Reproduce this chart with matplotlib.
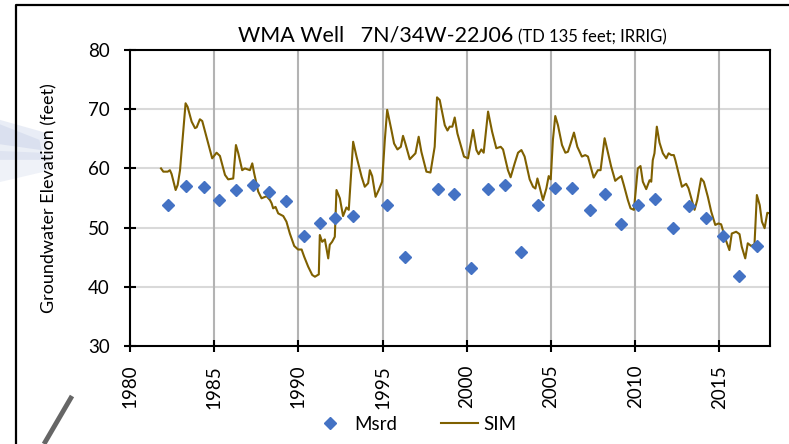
import matplotlib
matplotlib.use("Agg")
import matplotlib.pyplot as plt
from matplotlib.lines import Line2D
from matplotlib.patches import Polygon

plt.rcParams['font.family'] = ['Lato', 'DejaVu Sans']

# measured water levels (roughly one reading per year)
msrd_year = [1982.27, 1983.30, 1984.39, 1985.30, 1986.29, 1987.32, 1988.25, 1989.25,
             1990.32, 1991.27, 1992.20, 1993.25, 1995.27, 1996.30, 1998.29, 1999.24,
             2000.23, 2001.26, 2002.25, 2003.24, 2004.22, 2005.23, 2006.24, 2007.29,
             2008.22, 2009.17, 2010.16, 2011.19, 2012.23, 2013.22, 2014.21, 2015.20,
             2016.17, 2017.21]
msrd_elev = [53.8, 57.1, 56.8, 54.7, 56.4, 57.25, 56.0, 54.5,
             48.5, 50.7, 51.6, 52.0, 53.8, 45.1, 56.6, 55.6,
             43.2, 56.5, 57.25, 45.8, 53.8, 56.7, 56.7, 53.0,
             55.6, 50.6, 53.8, 54.8, 50.0, 53.7, 51.6, 48.6,
             41.9, 46.9]

# simulated heads from the model run
sim_year = [1981.84, 1981.98, 1982.24, 1982.37, 1982.47, 1982.71, 1982.83, 1982.97,
            1983.30, 1983.42, 1983.66, 1983.86, 1983.96, 1984.15, 1984.29, 1984.55,
            1984.88, 1985.14, 1985.34, 1985.64, 1985.83, 1986.13, 1986.29, 1986.43,
            1986.66, 1986.82, 1987.12, 1987.26, 1987.37, 1987.61, 1987.81, 1988.11,
            1988.31, 1988.41, 1988.50, 1988.64, 1988.80, 1989.10, 1989.29, 1989.49,
            1989.75, 1989.98, 1990.19, 1990.34, 1990.58, 1990.82, 1990.98, 1991.21,
            1991.27, 1991.41, 1991.57, 1991.77, 1991.86, 1992.00, 1992.16, 1992.26,
            1992.46, 1992.65, 1992.85, 1992.99, 1993.25, 1993.45, 1993.75, 1993.94,
            1994.14, 1994.24, 1994.38, 1994.58, 1994.77, 1994.97, 1995.13, 1995.27,
            1995.52, 1995.68, 1995.88, 1996.08, 1996.21, 1996.35, 1996.61, 1996.95,
            1997.14, 1997.30, 1997.60, 1997.84, 1998.09, 1998.23, 1998.39, 1998.69,
            1998.85, 1998.98, 1999.14, 1999.28, 1999.44, 1999.83, 2000.07, 2000.37,
            2000.57, 2000.70, 2000.86, 2001.00, 2001.26, 2001.50, 2001.75, 2002.01,
            2002.15, 2002.44, 2002.60, 2002.84, 2003.04, 2003.24, 2003.43, 2003.73,
            2003.93, 2004.07, 2004.19, 2004.32, 2004.52, 2004.72, 2004.86, 2004.98,
            2005.11, 2005.25, 2005.41, 2005.65, 2005.85, 2006.00, 2006.16, 2006.36,
            2006.56, 2006.83, 2007.03, 2007.19, 2007.53, 2007.78, 2007.94, 2008.18,
            2008.37, 2008.57, 2008.81, 2008.97, 2009.17, 2009.32, 2009.56, 2009.72,
            2009.92, 2010.15, 2010.31, 2010.45, 2010.65, 2010.85, 2010.95, 2011.04,
            2011.14, 2011.28, 2011.44, 2011.64, 2011.84, 2011.98, 2012.14, 2012.29,
            2012.38, 2012.57, 2012.77, 2013.02, 2013.16, 2013.52, 2013.68, 2013.91,
            2014.07, 2014.31, 2014.51, 2014.75, 2014.94, 2015.10, 2015.34, 2015.59,
            2015.73, 2015.99, 2016.19, 2016.32, 2016.53, 2016.68, 2016.88, 2017.08,
            2017.22, 2017.39, 2017.52, 2017.68, 2017.84, 2017.99]
sim_elev = [60.0, 59.45, 59.45, 59.7, 59.05, 56.35, 57.2, 59.7,
            71.0, 70.4, 67.9, 66.8, 66.95, 68.3, 68.0, 65.2,
            61.7, 62.65, 62.1, 58.9, 58.15, 58.3, 63.95, 62.55,
            59.7, 60.0, 59.7, 60.85, 59.2, 56.1, 54.95, 55.3,
            54.65, 54.1, 53.25, 53.5, 52.4, 51.95, 51.0, 49.0,
            46.9, 46.3, 46.3, 45.1, 43.4, 42.0, 41.7, 42.1,
            48.75, 47.6, 48.0, 44.8, 47.1, 47.6, 48.45, 56.35,
            54.95, 51.95, 53.4, 53.0, 64.5, 62.0, 58.6, 56.9,
            57.5, 59.7, 58.7, 55.2, 56.35, 57.75, 64.8, 69.9,
            66.5, 64.2, 63.2, 63.65, 65.5, 64.2, 61.55, 62.55,
            65.35, 62.8, 59.45, 59.3, 63.65, 72.0, 71.55, 67.3,
            66.4, 67.05, 67.05, 68.6, 65.9, 62.0, 61.7, 66.5,
            63.1, 62.4, 63.2, 62.65, 69.6, 66.2, 63.4, 63.65,
            63.2, 59.7, 58.5, 60.85, 62.65, 63.1, 62.0, 58.15,
            56.9, 56.6, 58.3, 56.9, 54.65, 56.6, 58.7, 58.15,
            64.8, 68.85, 67.3, 63.95, 62.65, 62.8, 64.2, 66.05,
            63.65, 62.0, 62.25, 62.0, 58.45, 59.7, 59.7, 65.1,
            62.8, 60.3, 57.9, 58.3, 58.7, 57.2, 54.65, 53.25,
            53.0, 60.0, 60.4, 57.75, 56.5, 58.0, 57.75, 61.4,
            62.55, 67.05, 64.35, 62.55, 61.7, 62.55, 62.25, 62.25,
            61.4, 59.2, 56.9, 57.4, 56.65, 53.0, 54.65, 58.3,
            57.75, 55.2, 52.7, 50.45, 50.7, 50.55, 48.2, 46.2,
            49.0, 49.3, 48.9, 46.8, 44.8, 47.35, 46.9, 47.2,
            55.5, 53.8, 51.0, 49.9, 52.5, 52.4]

year_ticks = [1980, 1985, 1990, 1995, 2000, 2005, 2010, 2015]
elev_ticks = [30, 40, 50, 60, 70, 80]

fig = plt.figure(figsize=(7.89, 4.44), dpi=100)
fig.patch.set_facecolor('white')

# slide decorations: faint blue swoosh, frame and grey slash
swoosh = [
    [(0.0, 0.73), (0.06, 0.70), (0.06, 0.66), (0.0, 0.675)],
    [(0.0, 0.66), (0.065, 0.655), (0.06, 0.615), (0.0, 0.59)],
    [(0.0, 0.72), (0.05, 0.685), (0.055, 0.64), (0.0, 0.64)],
]
for pts, a in zip(swoosh, [0.22, 0.16, 0.2]):
    fig.add_artist(Polygon(pts, closed=True, transform=fig.transFigure,
                           facecolor='#9fb0d6', edgecolor='none', alpha=a, zorder=0))
fig.add_artist(Line2D([16 / 789, 16 / 789, 1.0], [0.0, 1 - 5 / 444, 1 - 5 / 444],
                      transform=fig.transFigure, color='black', lw=1.6, zorder=1))
fig.add_artist(Line2D([72 / 789, 44 / 789], [1 - 396 / 444, 1 - 444 / 444],
                      transform=fig.transFigure, color='#666666', lw=3.5,
                      solid_capstyle='butt', zorder=1))

ax = fig.add_axes([130 / 789, 1 - 346 / 444, 640 / 789, 296 / 444])
ax.set_facecolor('white')

ax.plot(sim_year, sim_elev, color='#7f6000', lw=1.5, zorder=3)
ax.plot(msrd_year, msrd_elev, linestyle='none', marker='D', markersize=6.3,
        color='#4472c4', markeredgecolor='#4472c4', zorder=4)

ax.set_xlim(1980, 2018)
ax.set_ylim(30, 80)
ax.set_xticks(year_ticks)
ax.set_yticks(elev_ticks)
ax.set_xticklabels([str(y) for y in year_ticks], rotation=90)

for y in elev_ticks[1:-1]:
    ax.axhline(y, color='#d9d9d9', lw=1.5, zorder=1)
for x in year_ticks[1:]:
    ax.axvline(x, color='#b3b3b3', lw=1.5, zorder=1)

for side in ['left', 'bottom', 'top', 'right']:
    ax.spines[side].set_color('black')
    ax.spines[side].set_linewidth(1.5)
    ax.spines[side].set_zorder(5)

ax.tick_params(axis='both', direction='inout', length=9, width=1.5,
               labelsize=13.5, colors='black')
ax.tick_params(axis='y', pad=10)
ax.tick_params(axis='x', pad=9)

ax.set_ylabel('Groundwater Elevation (feet)', fontsize=13, labelpad=22)

fig.text(513 / 789, 1 - 42 / 444, 'WMA Well   7N/34W-22J06', ha='right',
         va='baseline', fontsize=15.5)
fig.text(518 / 789, 1 - 42 / 444, '(TD 135 feet; IRRIG)', ha='left',
         va='baseline', fontsize=12)

handles = [
    Line2D([], [], linestyle='none', marker='D', markersize=6.3, color='#4472c4'),
    Line2D([], [], color='#7f6000', lw=1.5),
]
fig.legend(handles, ['Msrd', 'SIM'], loc='center', bbox_to_anchor=(414 / 789, 1 - 424 / 444),
           ncol=2, frameon=False, fontsize=13.5, handlelength=2.0, handletextpad=0.3,
           columnspacing=2.3)

fig.savefig('out.png', dpi=100, facecolor='white')
